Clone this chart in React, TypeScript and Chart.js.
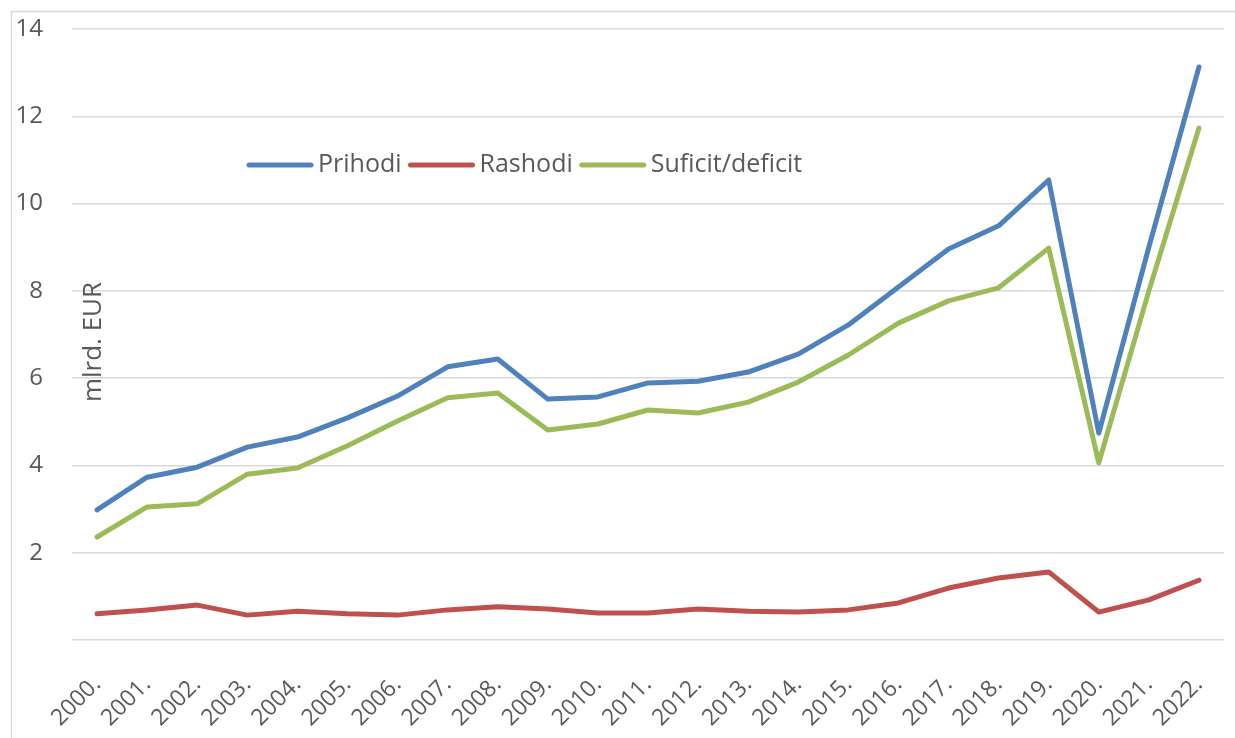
import React, { useEffect, useRef } from "react";
import { Chart, registerables } from "chart.js";

Chart.register(...registerables);

const years = ["2000.", "2001.", "2002.", "2003.", "2004.", "2005.", "2006.", "2007.", "2008.", "2009.", "2010.", "2011.", "2012.", "2013.", "2014.", "2015.", "2016.", "2017.", "2018.", "2019.", "2020.", "2021.", "2022."];
const prihodi = [2.98, 3.73, 3.96, 4.42, 4.65, 5.09, 5.59, 6.26, 6.44, 5.52, 5.57, 5.89, 5.93, 6.14, 6.55, 7.22, 8.09, 8.96, 9.49, 10.54, 4.74, 9.0, 13.13];
const rashodi = [0.6, 0.69, 0.8, 0.57, 0.66, 0.6, 0.57, 0.69, 0.76, 0.71, 0.62, 0.62, 0.71, 0.66, 0.64, 0.69, 0.85, 1.19, 1.42, 1.56, 0.64, 0.92, 1.37];
const suficit = [2.36, 3.05, 3.12, 3.8, 3.94, 4.45, 5.02, 5.55, 5.66, 4.81, 4.95, 5.27, 5.2, 5.45, 5.91, 6.53, 7.26, 7.77, 8.07, 8.98, 4.06, 8.0, 11.73];
const seriesNames = ["Prihodi", "Rashodi", "Suficit/deficit"];
const seriesColors = ["#4F81BD", "#C0504D", "#9BBB59"];
const yTitle = "mlrd. EUR";

const FONT = "'Open Sans', sans-serif";
const TEXT = "#595959";
const GRID = "#d9d9d9";

const decorPlugin = {
  id: "decor",
  beforeDraw(chart: any) {
    const ctx = chart.ctx;
    ctx.save();
    ctx.fillStyle = "#ffffff";
    ctx.fillRect(0, 0, chart.width, chart.height);
    ctx.strokeStyle = GRID;
    ctx.lineWidth = 1.5;
    ctx.strokeRect(11.5, 11.5, chart.width + 20, chart.height + 20);
    ctx.restore();
  },
  afterDraw(chart: any) {
    const ctx = chart.ctx;
    ctx.save();
    // y title
    ctx.translate(94, 342);
    ctx.rotate(-Math.PI / 2);
    ctx.font = `26px ${FONT}`;
    ctx.fillStyle = TEXT;
    ctx.textAlign = "center";
    ctx.textBaseline = "middle";
    ctx.fillText(yTitle, 0, 0);
    ctx.restore();

    // legend
    ctx.save();
    ctx.font = `25px ${FONT}`;
    ctx.textBaseline = "middle";
    ctx.textAlign = "left";
    let x = 249;
    const y = 165;
    chart.data.datasets.forEach((ds: any) => {
      ctx.strokeStyle = ds.borderColor;
      ctx.lineWidth = 5;
      ctx.lineCap = "round";
      ctx.beginPath();
      ctx.moveTo(x, y);
      ctx.lineTo(x + 62, y);
      ctx.stroke();
      x += 69;
      ctx.fillStyle = TEXT;
      ctx.fillText(ds.label, x, y);
      x += ctx.measureText(ds.label).width + 9;
    });
    ctx.restore();
  },
};

export default function App() {
  const ref = useRef<HTMLCanvasElement>(null);
  useEffect(() => {
    if (!ref.current) return;
    const values = [prihodi, rashodi, suficit];
    const chart = new Chart(ref.current, {
      type: "line",
      data: {
        labels: years,
        datasets: values.map((v, i) => ({
          label: seriesNames[i],
          data: v,
          borderColor: seriesColors[i],
          backgroundColor: seriesColors[i],
          borderWidth: 5,
          pointRadius: 0,
          tension: 0,
          borderCapStyle: "round",
          borderJoinStyle: "round",
          order: 3 - i,
        })),
      },
      options: {
        animation: false,
        responsive: false,
        layout: { padding: { left: 0, right: 11, top: 29, bottom: 0 } },
        plugins: {
          legend: { display: false },
          tooltip: { enabled: false },
        },
        scales: {
          x: {
            offset: true,
            grid: { display: false },
            border: { display: false },
            ticks: {
              autoSkip: false,
              minRotation: 45,
              maxRotation: 45,
              color: TEXT,
              font: { family: FONT, size: 23 },
              padding: 23,
            },
            afterFit(scale: any) {
              scale.height = 98;
              scale.paddingLeft = 0;
              scale.paddingRight = 0;
            },
          },
          y: {
            min: 0,
            max: 14,
            border: { display: false },
            grid: { color: GRID, lineWidth: 1.5, drawTicks: false },
            ticks: {
              stepSize: 2,
              color: TEXT,
              font: { family: FONT, size: 24 },
              padding: 29,
              callback: (v: any) => (v === 0 ? "" : String(v)),
            },
            afterFit(scale: any) {
              scale.width = 72;
              scale.paddingTop = 0;
              scale.paddingBottom = 0;
            },
          },
        },
      },
      plugins: [decorPlugin],
    });
    return () => chart.destroy();
  }, []);
  return (
    <div style={{ position: "fixed", left: 0, top: 0, width: 1235, height: 738, background: "#fff" }}>
      <canvas ref={ref} width={1235} height={738} style={{ width: 1235, height: 738 }} />
    </div>
  );
}
